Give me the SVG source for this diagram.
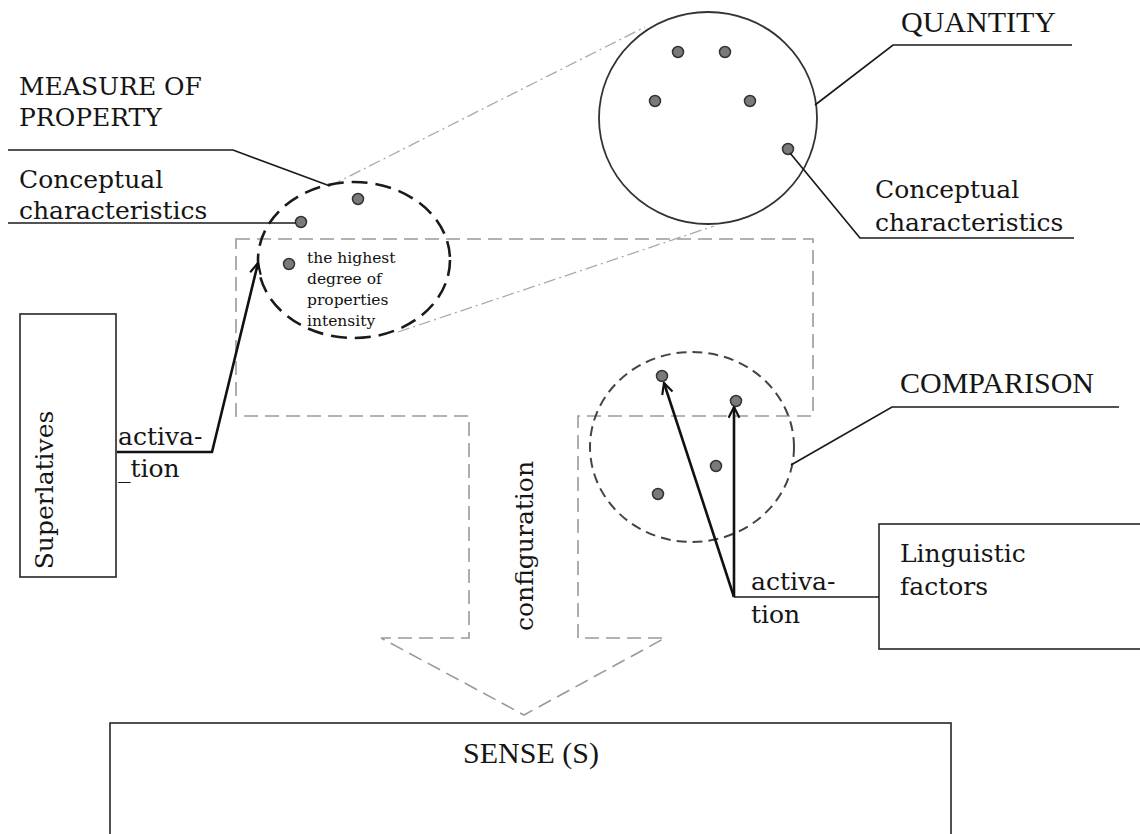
<svg xmlns="http://www.w3.org/2000/svg" width="1140" height="834" viewBox="0 0 1140 834">
  <style>
    .lbl { font-family: "DejaVu Serif", serif; font-size: 25px; fill: #151515; }
    .cap { font-family: "Liberation Serif", serif; font-size: 30px; fill: #151515; }
    .small { font-family: "DejaVu Serif", serif; font-size: 15.5px; fill: #111; }
    .ln { fill: none; stroke: #1a1a1a; stroke-width: 1.7; }
    .arr { fill: none; stroke: #111; stroke-width: 2.6; }
    .dot { fill: #7a7a7a; stroke: #333; stroke-width: 1.5; }
    .box { fill: #fff; stroke: #333; stroke-width: 1.7; }
    .guide { fill: none; stroke: #aaa; stroke-width: 1.3; stroke-dasharray: 12 4 2 4; }
  </style>
  <defs>
    <marker id="chev" viewBox="0 0 12 12" refX="11" refY="6" markerWidth="13" markerHeight="13" markerUnits="userSpaceOnUse" orient="auto">
      <path d="M1,1 L11,6 L1,11" fill="none" stroke="#111" stroke-width="2"/>
    </marker>
  </defs>
  <rect width="1140" height="834" fill="#fff"/>

  <!-- projection guides between the small and the large circle -->
  <g id="guides">
    <path class="guide" d="M330,186 L645,27"/>
    <path class="guide" d="M398,332 L714,226"/>
  </g>

  <!-- configuration arrow -->
  <g id="configuration">
    <path d="M236,239 H813 V416 H578 V638 H665 L524,715 L381,638 H469 V416 H236 Z" fill="none" stroke="#9a9a9a" stroke-width="1.6" stroke-dasharray="14 7"/>
    <text class="lbl" transform="translate(533,546) rotate(-90)" text-anchor="middle">configuration</text>
  </g>

  <!-- measure of property -->
  <g id="measure">
    <text class="lbl" x="19" y="95">MEASURE OF</text>
    <text class="lbl" x="19" y="126">PROPERTY</text>
    <ellipse cx="354" cy="260" rx="96" ry="78" fill="none" stroke="#1a1a1a" stroke-width="2.6" stroke-dasharray="16 8"/>
    <circle class="dot" cx="358" cy="199" r="5.5"/>
    <circle class="dot" cx="301" cy="222" r="5.5"/>
    <circle class="dot" cx="289" cy="264" r="5.5"/>
    <text class="small" x="307" y="263">the highest</text>
    <text class="small" x="307" y="284">degree of</text>
    <text class="small" x="307" y="305">properties</text>
    <text class="small" x="307" y="326">intensity</text>
    <text class="lbl" x="19" y="188">Conceptual</text>
    <text class="lbl" x="19" y="219">characteristics</text>
  </g>

  <!-- quantity -->
  <g id="quantity">
    <ellipse cx="708" cy="118" rx="109" ry="106" fill="none" stroke="#333" stroke-width="1.8"/>
    <circle class="dot" cx="678" cy="52" r="5.5"/>
    <circle class="dot" cx="725" cy="52" r="5.5"/>
    <circle class="dot" cx="655" cy="101" r="5.5"/>
    <circle class="dot" cx="750" cy="101" r="5.5"/>
    <circle class="dot" cx="788" cy="149" r="5.5"/>
    <text class="cap" x="901" y="32">QUANTITY</text>
    <text class="lbl" x="875" y="198">Conceptual</text>
    <text class="lbl" x="875" y="231">characteristics</text>
  </g>

  <!-- comparison -->
  <g id="comparison">
    <ellipse cx="692" cy="447" rx="102" ry="95" fill="none" stroke="#444" stroke-width="2" stroke-dasharray="10 6"/>
    <circle class="dot" cx="662" cy="376" r="5.5"/>
    <circle class="dot" cx="736" cy="401" r="5.5"/>
    <circle class="dot" cx="716" cy="466" r="5.5"/>
    <circle class="dot" cx="658" cy="494" r="5.5"/>
    <text class="cap" x="900" y="393">COMPARISON</text>
  </g>

  <!-- superlatives -->
  <g id="superlatives">
    <rect class="box" x="20" y="314" width="96" height="263"/>
    <text class="lbl" transform="translate(53,490) rotate(-90)" text-anchor="middle">Superlatives</text>
  </g>

  <!-- linguistic factors -->
  <g id="linguistic">
    <rect class="box" x="879" y="524" width="270" height="125"/>
    <text class="lbl" x="900" y="562">Linguistic</text>
    <text class="lbl" x="900" y="595">factors</text>
  </g>

  <!-- sense -->
  <g id="sense">
    <rect class="box" x="110" y="723" width="841" height="130"/>
    <text class="cap" x="531" y="763" text-anchor="middle">SENSE (S)</text>
  </g>

  <!-- leaders and activation arrows -->
  <g id="connectors">
    <path class="ln" d="M8,150 H233 L330,186"/>
    <path class="ln" d="M8,223 H296"/>
    <path class="ln" d="M815,105 L893,45 H1072"/>
    <path class="ln" d="M790,153 L860,238 H1074"/>
    <path class="ln" d="M791,465 L892,407 H1119"/>
    <path class="ln" d="M734,597 H879"/>
    <path class="arr" d="M117,452 H212 L258,263" marker-end="url(#chev)"/>
    <path class="arr" d="M734,597 L664,383" marker-end="url(#chev)"/>
    <path class="arr" d="M734,597 V407" marker-end="url(#chev)"/>
    <text class="lbl" x="118" y="445">activa-</text>
    <text class="lbl" x="118" y="477">_tion</text>
    <text class="lbl" x="751" y="590">activa-</text>
    <text class="lbl" x="751" y="623">tion</text>
  </g>
</svg>
